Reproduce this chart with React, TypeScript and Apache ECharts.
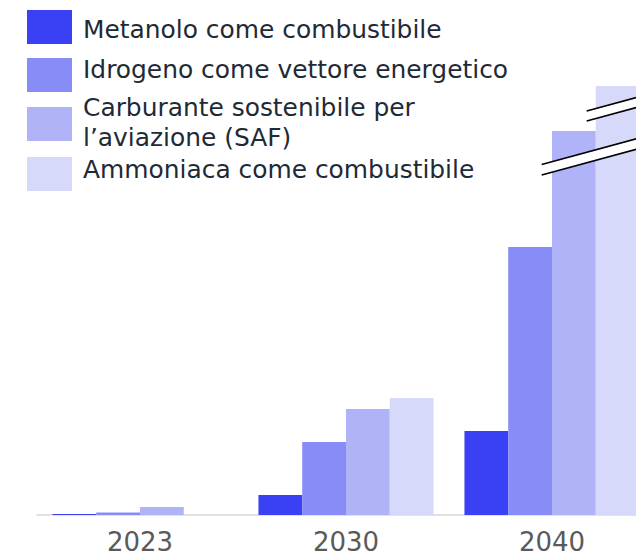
import React, { useEffect, useRef } from "react";
import * as echarts from "echarts";

const categories = ["2023", "2030", "2040"];
const seriesNames = [
  "Metanolo come combustibile",
  "Idrogeno come vettore energetico",
  "Carburante sostenibile per l’aviazione (SAF)",
  "Ammoniaca come combustibile",
];
const legendLines = [
  ["Metanolo come combustibile"],
  ["Idrogeno come vettore energetico"],
  ["Carburante sostenibile per", "l’aviazione (SAF)"],
  ["Ammoniaca come combustibile"],
];
const metanolo = [1, 20, 84];
const idrogeno = [2.5, 73, 268];
const saf = [8, 106, 384];
const ammoniaca = [0, 117, 429];
const seriesData = [metanolo, idrogeno, saf, ammoniaca];
const colors = ["#3a40f4", "#878cf7", "#b0b3f8", "#d7d9fb"];

export default function App() {
  const ref = useRef<HTMLDivElement>(null);
  useEffect(() => {
    if (!ref.current) return;
    const chart = echarts.init(ref.current, null, { renderer: "svg" });

    const legendSquaresY = [10, 58, 107, 157];
    const legendTextY = [29.5, 69, 122.5, 169];
    const graphic: any[] = [];
    legendLines.forEach((lines, i) => {
      graphic.push({
        type: "rect",
        left: 27,
        top: legendSquaresY[i],
        shape: { x: 0, y: 0, width: 45, height: 34 },
        style: { fill: colors[i] },
      });
      graphic.push({
        type: "text",
        x: 83,
        y: legendTextY[i],
        style: {
          text: lines.join("\n"),
          fill: "#1e2a36",
          font: "24.9px 'DejaVu Sans'",
          lineHeight: 30.5,
          verticalAlign: "middle",
          align: "left",
        },
      });
    });

    const breakMark = (x1: number, y1: number, x2: number, y2: number, gap: number) => [
      {
        type: "polygon",
        shape: { points: [[x1, y1], [x2, y2], [x2, y2 + gap], [x1, y1 + gap]] },
        style: { fill: "#ffffff" },
        z: 100,
      },
      {
        type: "line",
        shape: { x1, y1, x2, y2 },
        style: { stroke: "#000000", lineWidth: 1.6 },
        z: 101,
      },
      {
        type: "line",
        shape: { x1, y1: y1 + gap, x2, y2: y2 + gap },
        style: { stroke: "#000000", lineWidth: 1.6 },
        z: 101,
      },
    ];
    graphic.push(...breakMark(541.7, 164.5, 640, 137.8, 10.5));
    graphic.push(...breakMark(586.7, 111, 640, 96.6, 10));

    chart.setOption({
      animation: false,
      grid: {
        left: 37,
        top: 15,
        width: 618,
        height: 500,
        containLabel: false,
        outerBoundsMode: "none",
      },
      xAxis: {
        type: "category",
        data: categories,
        axisLine: { lineStyle: { color: "#d9d9d9", width: 1.5 } },
        axisTick: { show: false },
        axisLabel: {
          fontFamily: "DejaVu Sans",
          fontSize: 26,
          color: "#5a5a5a",
          margin: 14,
        },
      },
      yAxis: { type: "value", min: 0, max: 500, show: false },
      series: seriesNames.map((name, i) => ({
        name,
        type: "bar",
        data: seriesData[i],
        barGap: "0%",
        barCategoryGap: "15%",
        itemStyle: { color: colors[i] },
      })),
      graphic,
    });
    return () => chart.dispose();
  }, []);
  return (
    <div
      ref={ref}
      style={{
        position: "fixed",
        left: 0,
        top: 0,
        width: 636,
        height: 556,
        overflow: "hidden",
        background: "#ffffff",
      }}
    />
  );
}
